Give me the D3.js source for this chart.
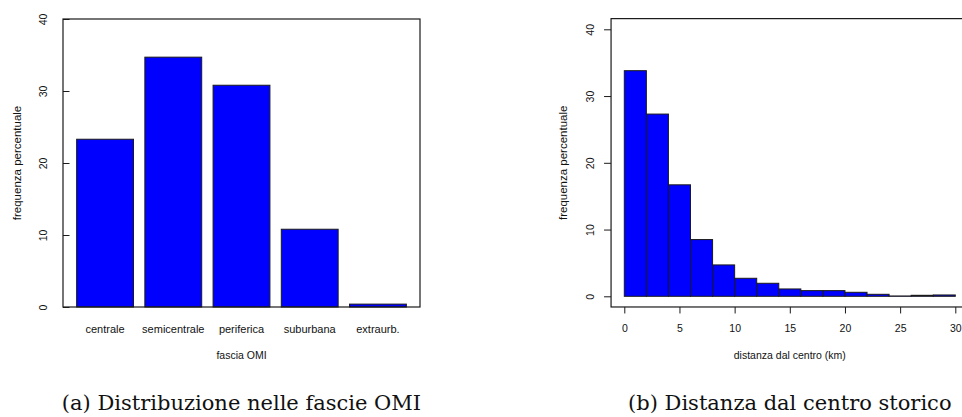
<!DOCTYPE html>
<html>
<head>
<meta charset="utf-8">
<script src="https://cdn.jsdelivr.net/npm/d3@7"></script>
<style>
  body { margin: 0; background: #fff; }
  svg { display: block; }
  text { font-family: "Liberation Sans", Arial, sans-serif; fill: #111; }
  .caption { font-family: "DejaVu Serif", serif; font-size: 21px; fill: #111; }
</style>
</head>
<body>
<svg id="chart" width="962" height="417"></svg>
<script>
// (a) fasce OMI
const categories = ["centrale", "semicentrale", "periferica", "suburbana", "extraurb."];
const catValues = [23.3, 34.7, 30.8, 10.8, 0.4];

// (b) distanza dal centro, bin di 2 km
const binStarts = [0, 2, 4, 6, 8, 10, 12, 14, 16, 18, 20, 22, 24, 26, 28];
const binWidth = 2;
const distValues = [33.8, 27.3, 16.7, 8.5, 4.7, 2.7, 1.95, 1.1, 0.85, 0.85, 0.6, 0.3, 0.05, 0.15, 0.2];

const yTicks = [0, 10, 20, 30, 40];
const xTicks = [0, 5, 10, 15, 20, 25, 30];

const svg = d3.select("#chart");
const BLUE = "#0000ff";
const LINE = "#1a1a1a";

// rotate the y tick labels like R does (las = 0)
function rotateLabels(g, offset) {
  g.selectAll(".tick text")
    .attr("transform", "rotate(-90)")
    .attr("x", 0)
    .attr("y", -offset)
    .attr("dy", "0.35em")
    .attr("text-anchor", "middle");
}

// ---------- left panel: barplot ----------
{
  const left = 63, right = 420, top = 19, bottom = 307;

  const x = d3.scaleBand()
    .domain(categories)
    .range([left, right])
    .paddingInner(1 / 6)
    .paddingOuter(0.2);

  const y = d3.scaleLinear().domain([0, 40]).range([bottom, top]);

  svg.append("g").selectAll("rect")
    .data(categories)
    .enter().append("rect")
    .attr("x", d => x(d))
    .attr("y", (d, i) => y(catValues[i]))
    .attr("width", x.bandwidth())
    .attr("height", (d, i) => y(0) - y(catValues[i]))
    .attr("fill", BLUE)
    .attr("stroke", LINE)
    .attr("stroke-width", 1);

  const yAxis = svg.append("g")
    .attr("transform", `translate(${left},0)`)
    .call(d3.axisLeft(y).tickValues(yTicks).tickSizeInner(-6.5).tickSizeOuter(0))
    .call(g => g.select(".domain").remove())
    .call(g => g.selectAll("line").attr("stroke", LINE))
    .call(g => g.selectAll("text").style("font-size", "10.5px"));
  rotateLabels(yAxis, 19.5);

  svg.append("g")
    .attr("transform", `translate(0,${bottom})`)
    .call(d3.axisBottom(x).tickSize(0).tickPadding(18))
    .call(g => g.select(".domain").remove())
    .call(g => g.selectAll("text").style("font-size", "11px"));

  svg.append("rect")
    .attr("x", left).attr("y", top)
    .attr("width", right - left).attr("height", bottom - top)
    .attr("fill", "none").attr("stroke", LINE).attr("stroke-width", 1.2);

  svg.append("text")
    .attr("x", (left + right) / 2).attr("y", 359)
    .attr("text-anchor", "middle")
    .style("font-size", "10.5px")
    .text("fascia OMI");

  svg.append("text")
    .attr("transform", `translate(21,${(top + bottom) / 2}) rotate(-90)`)
    .attr("text-anchor", "middle")
    .style("font-size", "11.5px")
    .text("frequenza percentuale");

  svg.append("text")
    .attr("class", "caption")
    .attr("x", (left + right) / 2).attr("y", 410)
    .attr("text-anchor", "middle")
    .text("(a) Distribuzione nelle fascie OMI");
}

// ---------- right panel: histogram ----------
{
  const x = d3.scaleLinear().domain([0, 30]).range([624.3, 955.3]);
  const y = d3.scaleLinear().domain([0, 40]).range([296.3, 29.3]);
  const left = x(-1.2), right = x(31.2), top = y(41.6), bottom = y(-1.6);

  svg.append("g").selectAll("rect")
    .data(binStarts)
    .enter().append("rect")
    .attr("x", d => x(d))
    .attr("y", (d, i) => y(distValues[i]))
    .attr("width", d => x(d + binWidth) - x(d))
    .attr("height", (d, i) => y(0) - y(distValues[i]))
    .attr("fill", BLUE)
    .attr("stroke", LINE)
    .attr("stroke-width", 1);

  const yAxis = svg.append("g")
    .attr("transform", `translate(${left},0)`)
    .call(d3.axisLeft(y).tickValues(yTicks).tickSizeInner(7).tickSizeOuter(0))
    .call(g => g.select(".domain").remove())
    .call(g => g.selectAll("line").attr("stroke", LINE))
    .call(g => g.selectAll("text").style("font-size", "10.5px"));
  rotateLabels(yAxis, 20.5);

  svg.append("g")
    .attr("transform", `translate(0,${bottom})`)
    .call(d3.axisBottom(x).tickValues(xTicks).tickSizeInner(6.5).tickSizeOuter(0).tickPadding(11))
    .call(g => g.select(".domain").remove())
    .call(g => g.selectAll("line").attr("stroke", LINE))
    .call(g => g.selectAll("text").style("font-size", "10.5px"));

  svg.append("rect")
    .attr("x", left).attr("y", top)
    .attr("width", right - left).attr("height", bottom - top)
    .attr("fill", "none").attr("stroke", LINE).attr("stroke-width", 1.2);

  svg.append("text")
    .attr("x", (left + right) / 2).attr("y", 359)
    .attr("text-anchor", "middle")
    .style("font-size", "10.5px")
    .text("distanza dal centro (km)");

  svg.append("text")
    .attr("transform", `translate(567,${(top + bottom) / 2}) rotate(-90)`)
    .attr("text-anchor", "middle")
    .style("font-size", "11.5px")
    .text("frequenza percentuale");

  svg.append("text")
    .attr("class", "caption")
    .attr("x", (left + right) / 2).attr("y", 410)
    .attr("text-anchor", "middle")
    .text("(b) Distanza dal centro storico");
}
</script>
</body>
</html>
